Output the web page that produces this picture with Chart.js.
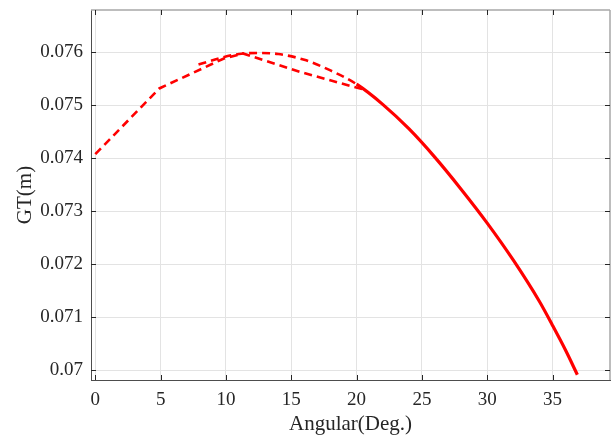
<!DOCTYPE html>
<html lang="en">
  <head>
    <meta charset="utf-8" />
    <title>GT vs Angular</title>
    <style>
      * {
        margin: 0;
        padding: 0;
      }
      body {
        background: white;
      }
    </style>
  </head>
  <body>
    <canvas id="myChart" width="611" height="437"></canvas>

    <script src="https://cdn.jsdelivr.net/npm/chart.js@4.1.1/dist/chart.umd.min.js"></script>

    <script>
      // sparse branch (rises from 0, peaks ~11, falls back to ~20)
      const branchX = [0, 4.9, 9.8, 11.3, 15.7, 19.5, 20.6];
      const branchY = [0.07408, 0.07532, 0.07588, 0.07598, 0.07563, 0.07537, 0.0753];

      // main curve
      const curveX = [7.9, 9.8, 11, 12.4, 14, 16, 18, 20, 22, 24, 26, 28, 30, 32, 34, 35, 36, 36.9];
      const curveY = [
        0.07577, 0.07591, 0.07597, 0.07599, 0.07597, 0.07586, 0.07566, 0.0754, 0.07502, 0.07456,
        0.07402, 0.07342, 0.07278, 0.07208, 0.0713, 0.07085, 0.07038, 0.06992,
      ];

      const xTicks = [0, 5, 10, 15, 20, 25, 30, 35];
      const yTicks = [0.07, 0.071, 0.072, 0.073, 0.074, 0.075, 0.076];
      const yTickLabels = ["0.07", "0.071", "0.072", "0.073", "0.074", "0.075", "0.076"];

      const toPoints = (xs, ys) => xs.map((x, i) => ({ x: x, y: ys[i] }));

      const data = {
        datasets: [
          {
            data: toPoints(branchX, branchY),
            borderColor: "rgb(255, 0, 0)",
            borderWidth: 2.6,
            borderDash: [8, 5],
            pointRadius: 0,
            tension: 0,
          },
          {
            data: toPoints(curveX, curveY),
            borderColor: "rgb(255, 0, 0)",
            borderWidth: 2.6,
            borderDash: [8, 5],
            pointRadius: 0,
            cubicInterpolationMode: "monotone",
            segment: {
              borderDash: (ctx) => (ctx.p0.parsed.x >= 20 ? [] : [8, 5]),
              borderWidth: (ctx) => (ctx.p0.parsed.x >= 20 ? 3.2 : 2.6),
            },
          },
        ],
      };

      // inward tick marks + top/right box lines
      const boxTicks = {
        id: "boxTicks",
        afterDraw(chart) {
          const {
            ctx,
            chartArea: { top, bottom, left, right },
            scales: { x, y },
          } = chart;
          ctx.save();
          ctx.strokeStyle = "#a8a8a8";
          ctx.lineWidth = 1.5;
          ctx.beginPath();
          ctx.moveTo(left, top);
          ctx.lineTo(right, top);
          ctx.moveTo(right, top);
          ctx.lineTo(right, bottom);
          ctx.stroke();

          ctx.strokeStyle = "#262626";
          ctx.lineWidth = 1;
          ctx.beginPath();
          xTicks.forEach((v) => {
            const px = Math.round(x.getPixelForValue(v)) + 0.5;
            ctx.moveTo(px, bottom);
            ctx.lineTo(px, bottom - 5);
            ctx.moveTo(px, top);
            ctx.lineTo(px, top + 5);
          });
          yTicks.forEach((v) => {
            const py = Math.round(y.getPixelForValue(v)) + 0.5;
            ctx.moveTo(left, py);
            ctx.lineTo(left + 5, py);
            ctx.moveTo(right, py);
            ctx.lineTo(right - 5, py);
          });
          ctx.stroke();
          ctx.restore();
        },
      };

      const tickFont = { family: "'Liberation Serif', serif", size: 19 };
      const titleFont = { family: "'Liberation Serif', serif", size: 21 };

      const config = {
        type: "line",
        data: data,
        options: {
          responsive: false,
          animation: false,
          layout: { padding: { top: 10, right: 1, left: 0, bottom: 0 } },
          plugins: {
            legend: { display: false },
            tooltip: { enabled: false },
          },
          scales: {
            x: {
              type: "linear",
              min: -0.33,
              max: 39.4,
              afterBuildTicks: (scale) => {
                scale.ticks = xTicks.map((v) => ({ value: v }));
              },
              afterFit: (scale) => {
                scale.height = 57;
                scale.paddingLeft = 0;
                scale.paddingRight = 0;
              },
              grid: { color: "#e3e3e3", lineWidth: 1, drawTicks: false },
              border: { display: true, color: "#4d4d4d", width: 1 },
              ticks: {
                color: "#262626",
                font: tickFont,
                padding: 9,
                maxRotation: 0,
                callback: (v) => String(v),
              },
              title: {
                display: true,
                text: "Angular(Deg.)",
                color: "#262626",
                font: titleFont,
                padding: { top: 0, bottom: 0 },
              },
            },
            y: {
              type: "linear",
              min: 0.06982,
              max: 0.0768,
              afterBuildTicks: (scale) => {
                scale.ticks = yTicks.map((v) => ({ value: v }));
              },
              afterFit: (scale) => {
                scale.width = 91;
                scale.paddingTop = 0;
                scale.paddingBottom = 0;
              },
              grid: { color: "#e3e3e3", lineWidth: 1, drawTicks: false },
              border: { display: true, color: "#4d4d4d", width: 1 },
              ticks: {
                color: "#262626",
                font: tickFont,
                padding: 8,
                callback: (v, i) => yTickLabels[i],
              },
              title: {
                display: true,
                text: "GT(m)",
                color: "#262626",
                font: titleFont,
                padding: { top: 13, bottom: 0 },
              },
            },
          },
        },
        plugins: [boxTicks],
      };

      const myChart = new Chart(document.getElementById("myChart"), config);
    </script>
  </body>
</html>
